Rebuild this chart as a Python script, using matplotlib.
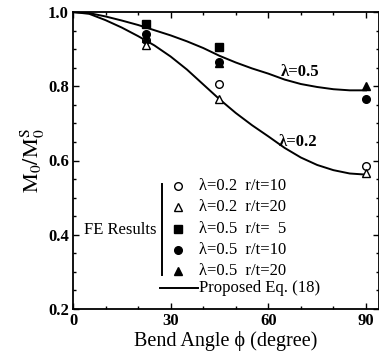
import matplotlib
matplotlib.use("Agg")
import matplotlib.pyplot as plt
from matplotlib.ticker import MultipleLocator

plt.rcParams['font.family'] = ['Liberation Serif', 'DejaVu Serif']
plt.rcParams['mathtext.fontset'] = 'stix'

# Proposed Eq. (18) curves
curve_x = [0, 5, 10, 15, 20, 25, 30, 35, 40, 45, 50, 55, 60, 65, 70, 75, 80, 85, 90]
curve_l05 = [1.0, 0.997, 0.988, 0.977, 0.965, 0.951, 0.937, 0.921, 0.903, 0.882,
             0.864, 0.848, 0.834, 0.818, 0.806, 0.798, 0.792, 0.789, 0.789]
curve_l02 = [1.0, 0.995, 0.978, 0.958, 0.935, 0.91, 0.88, 0.845, 0.805, 0.765,
             0.728, 0.695, 0.665, 0.634, 0.608, 0.588, 0.574, 0.565, 0.562]

# FE results
fe_x = [22.5, 45, 90]
l02_rt10 = [0.925, 0.805, 0.584]
l02_rt20 = [0.91, 0.765, 0.566]
l05_rt5 = [0.968, 0.905]
l05_rt10 = [0.94, 0.865, 0.765]
l05_rt20 = [0.93, 0.862, 0.80]

fig = plt.figure(figsize=(3.79, 3.53), dpi=100)
ax = fig.add_axes([73/379, 1-309/353, (379-73)/379, 297/353])

lw = 1.4
ax.plot(curve_x, curve_l05, color='black', lw=lw)
ax.plot(curve_x, curve_l02, color='black', lw=lw)

ms = 5.5
ax.plot(fe_x, l02_rt10, 'o', mfc='white', mec='black', ms=ms, mew=1.0, ls='none')
ax.plot(fe_x, l02_rt20, '^', mfc='white', mec='black', ms=ms+0.5, mew=1.0, ls='none')
ax.plot(fe_x[:2], l05_rt5, 's', color='black', ms=ms, ls='none')
ax.plot(fe_x, l05_rt10, 'o', color='black', ms=ms, ls='none')
ax.plot(fe_x, l05_rt20, '^', color='black', ms=ms+0.5, ls='none')

ax.text(69.7, 0.838, 'λ=0.5', fontsize=12, fontweight='bold', ha='center', va='center')
ax.text(69.0, 0.651, 'λ=0.2', fontsize=12, fontweight='bold', ha='center', va='center')

ax.set_xlim(0, 94)
ax.set_ylim(0.2, 1.0)
ax.xaxis.set_minor_locator(MultipleLocator(10))
ax.yaxis.set_minor_locator(MultipleLocator(0.05))
ax.tick_params(which='both', direction='in', top=True, right=True, width=1.0)
ax.tick_params(which='major', length=4, labelsize=12, pad=3)
ax.tick_params(which='minor', length=2)
ax.set_yticks([0.2, 0.4, 0.6, 0.8, 1.0])
ax.set_yticklabels(['0.2', '0.4', '0.6', '0.8', '1.0'], fontweight='bold')
ax.set_xticks([0, 30, 60, 90])
ax.set_xticklabels(['0', '30', '60', '90'], fontweight='bold')
for s in ax.spines.values():
    s.set_linewidth(1.3)

ax.set_xlabel('Bend Angle ϕ (degree)', fontsize=14.5, labelpad=1)
ax.set_ylabel(r'$\mathrm{M_0/M_0^S}$', fontsize=16, labelpad=1)

# Manual legend block
T = ax.transAxes
def fx(px):
    return (px - 73) / 306
def fy(py):
    return (309 - py) / 297

rows_y = [186, 207, 229, 250, 271]
labels = ['λ=0.2  r/t=10', 'λ=0.2  r/t=20', 'λ=0.5  r/t=  5', 'λ=0.5  r/t=10', 'λ=0.5  r/t=20']
styles = [dict(marker='o', mfc='white', mec='black', ms=ms, mew=1.0),
          dict(marker='^', mfc='white', mec='black', ms=ms+0.5, mew=1.0),
          dict(marker='s', color='black', ms=ms),
          dict(marker='o', color='black', ms=ms),
          dict(marker='^', color='black', ms=ms+0.5)]
fs = 12
for ry, lab, st in zip(rows_y, labels, styles):
    ax.plot([fx(178)], [fy(ry)], transform=T, ls='none', clip_on=False, **st)
    ax.text(fx(199), fy(ry), lab, transform=T, fontsize=fs, va='center', ha='left')
ax.plot([fx(162), fx(162)], [fy(184), fy(275)], transform=T, color='black', lw=1.4)
ax.text(fx(156), fy(230), 'FE Results', transform=T, fontsize=fs, va='center', ha='right')
ax.plot([fx(160), fx(198)], [fy(288), fy(288)], transform=T, color='black', lw=lw)
ax.text(fx(199), fy(288), 'Proposed Eq. (18)', transform=T, fontsize=fs, va='center', ha='left')

fig.savefig('out.png', dpi=100)
